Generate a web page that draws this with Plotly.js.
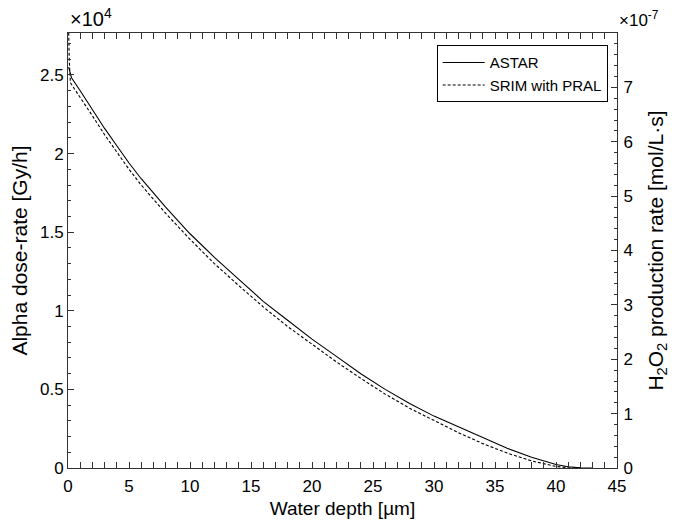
<!DOCTYPE html>
<html>
<head>
<meta charset="utf-8">
<script src="https://cdn.plot.ly/plotly-3.0.1.min.js"></script>
<style>html,body{margin:0;padding:0;background:#fff;}#chart{width:683px;height:524px;}</style>
</head>
<body>
<div id="chart"></div>
<script>
// Water depth [µm]
const astarDepth = [0.05, 0.3, 1, 2, 3, 4, 5, 6, 8, 10, 12, 14, 16, 18, 20, 22, 24, 26, 28, 30, 32, 34, 36, 38, 40, 41, 42, 43];
// Alpha dose-rate [×10^4 Gy/h]
const astarDose = [2.55, 2.48, 2.40, 2.28, 2.16, 2.05, 1.94, 1.84, 1.66, 1.49, 1.34, 1.20, 1.06, 0.94, 0.82, 0.71, 0.60, 0.50, 0.41, 0.33, 0.26, 0.19, 0.125, 0.068, 0.022, 0.008, 0.001, 0];
const srimDepth = [0.05, 0.1, 0.2, 1, 2, 3, 4, 5, 6, 8, 10, 12, 14, 16, 18, 20, 22, 24, 26, 28, 30, 32, 34, 36, 38, 40, 41, 42];
const srimDose = [2.8, 2.6, 2.45, 2.36, 2.24, 2.12, 2.01, 1.90, 1.80, 1.62, 1.455, 1.30, 1.16, 1.025, 0.90, 0.785, 0.675, 0.57, 0.47, 0.38, 0.30, 0.225, 0.155, 0.095, 0.045, 0.01, 0.002, 0];
// axis ticks
const xTicks = [0, 5, 10, 15, 20, 25, 30, 35, 40, 45];
const yTicks = [0, 0.5, 1, 1.5, 2, 2.5];
const y2Ticks = [0, 1, 2, 3, 4, 5, 6, 7];
// dose range ↔ H2O2 rate range (×10^-7 mol/L·s)
const doseMax = 2.767;
const rateMax = 8;

const font = {family: 'Liberation Sans, Arial, sans-serif', color: '#000'};
const f = s => Object.assign({size: s}, font);
const traces = [
  {x: astarDepth, y: astarDose, name: 'ASTAR', type: 'scatter', mode: 'lines',
   line: {color: '#000', width: 1.1}},
  {x: srimDepth, y: srimDose, name: 'SRIM with PRAL', type: 'scatter', mode: 'lines',
   line: {color: '#000', width: 1.1, dash: '3px,2px'}},
  {x: astarDepth, y: astarDose.map(v => v * rateMax / doseMax), yaxis: 'y2', type: 'scatter', mode: 'lines',
   line: {color: 'rgba(0,0,0,0)', width: 0}, showlegend: false, hoverinfo: 'skip'}
];
const layout = {
  width: 683, height: 524,
  margin: {l: 67.5, r: 65.5, t: 33, b: 56},
  paper_bgcolor: '#fff', plot_bgcolor: '#fff',
  font: f(16),
  showlegend: true,
  legend: {x: 0.983, y: 0.972, xanchor: 'right', yanchor: 'top', bordercolor: '#000', borderwidth: 1,
           bgcolor: '#fff', font: f(15), tracegroupgap: 0, itemwidth: 42},
  xaxis: {range: [0, 45], tickvals: xTicks, ticktext: xTicks.map(String), ticks: 'inside', ticklen: 6,
          tickcolor: '#333', showline: true, linecolor: '#333', linewidth: 1, mirror: 'allticks',
          showgrid: false, zeroline: false, tickfont: f(17), ticklabelstandoff: 3,
          minor: {dtick: 1, ticks: 'inside', ticklen: 3, tickcolor: '#333'},
          title: {text: 'Water depth [µm]', font: f(19), standoff: 6}},
  yaxis: {range: [0, doseMax], tickvals: yTicks, ticktext: yTicks.map(String), ticks: 'inside', ticklen: 6,
          tickcolor: '#333', showline: true, linecolor: '#333', linewidth: 1, mirror: false,
          showgrid: false, zeroline: false, tickfont: f(17),
          minor: {dtick: 0.1, ticks: 'inside', ticklen: 3, tickcolor: '#333'},
          title: {text: 'Alpha dose-rate [Gy/h]', font: f(21), standoff: 6}},
  yaxis2: {overlaying: 'y', side: 'right', range: [0, rateMax], tickvals: y2Ticks, ticktext: y2Ticks.map(String),
           ticks: 'inside', ticklen: 6, tickcolor: '#333', showline: true, linecolor: '#333', linewidth: 1,
           showgrid: false, zeroline: false, tickfont: f(17), ticklabelstandoff: 2,
           minor: {dtick: 0.2, ticks: 'inside', ticklen: 3, tickcolor: '#333'},
           title: {text: 'H<sub>2</sub>O<sub>2</sub> production rate [mol/L·s]', font: f(21), standoff: 16}},
  annotations: [
    {xref: 'paper', yref: 'paper', x: 0, y: 1, xanchor: 'left', yanchor: 'bottom', yshift: 1, showarrow: false,
     text: '×10<sup>4</sup>', font: f(20)},
    {xref: 'paper', yref: 'paper', x: 1, y: 1, xanchor: 'left', yanchor: 'bottom', yshift: 1, showarrow: false,
     text: '×10<sup>-7</sup>', font: f(17)}
  ]
};
Plotly.newPlot('chart', traces, layout, {displayModeBar: false, staticPlot: true});
</script>
</body>
</html>
